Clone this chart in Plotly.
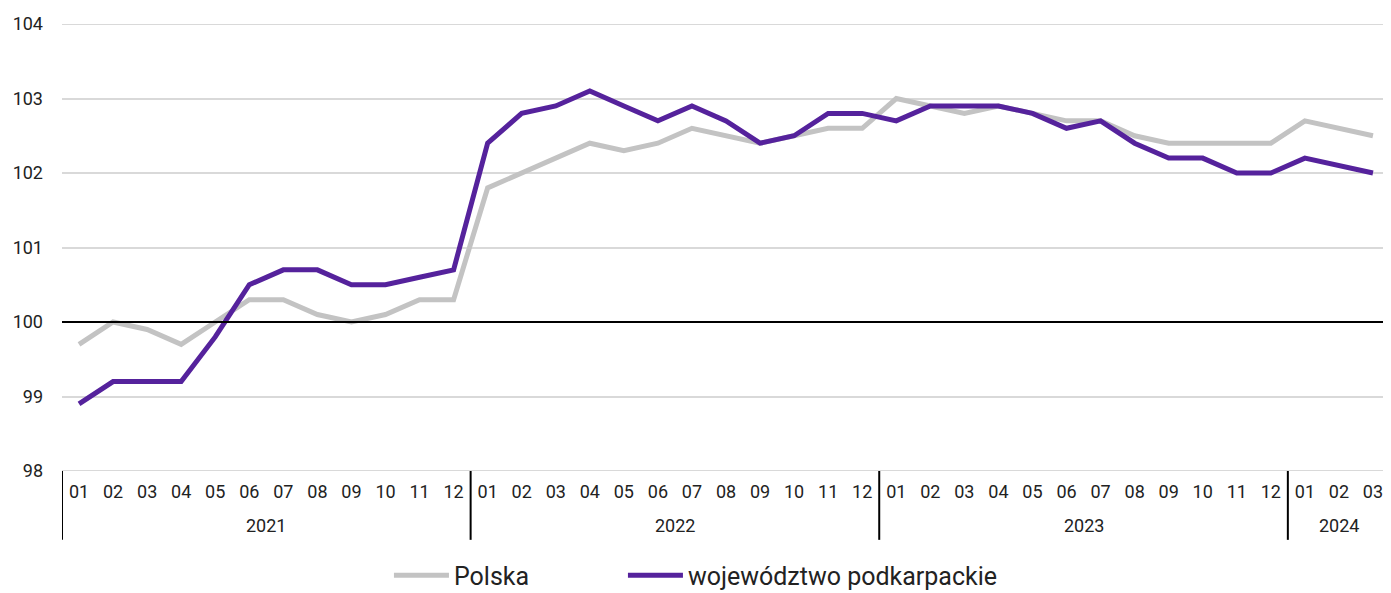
import plotly.graph_objects as go

years = ["2021", "2022", "2023", "2024"]
year_sizes = [12, 12, 12, 3]
months = [f"{m:02d}" for m in range(1, 13)] * 3 + ["01", "02", "03"]

polska = [99.7, 100.0, 99.9, 99.7, 100.0, 100.3, 100.3, 100.1, 100.0, 100.1, 100.3, 100.3,
          101.8, 102.0, 102.2, 102.4, 102.3, 102.4, 102.6, 102.5, 102.4, 102.5, 102.6, 102.6,
          103.0, 102.9, 102.8, 102.9, 102.8, 102.7, 102.7, 102.5, 102.4, 102.4, 102.4, 102.4,
          102.7, 102.6, 102.5]
podkarpackie = [98.9, 99.2, 99.2, 99.2, 99.8, 100.5, 100.7, 100.7, 100.5, 100.5, 100.6, 100.7,
                102.4, 102.8, 102.9, 103.1, 102.9, 102.7, 102.9, 102.7, 102.4, 102.5, 102.8, 102.8,
                102.7, 102.9, 102.9, 102.9, 102.8, 102.6, 102.7, 102.4, 102.2, 102.2, 102.0, 102.0,
                102.2, 102.1, 102.0]
yticks = [98, 99, 100, 101, 102, 103, 104]

FONT = "Roboto, Noto Sans, sans-serif"
idx = list(range(len(months)))

fig = go.Figure()
fig.add_trace(go.Scatter(x=idx, y=polska, mode="lines", name="Polska",
                         line=dict(color="#c3c3c3", width=5), legend="legend"))
fig.add_trace(go.Scatter(x=idx, y=podkarpackie, mode="lines",
                         name="województwo podkarpackie",
                         line=dict(color="#55229c", width=5), legend="legend2"))

# edge gridlines (min / max of y range)
for yv in (yticks[0], yticks[-1]):
    fig.add_shape(type="line", xref="paper", x0=0, x1=1, yref="y", y0=yv, y1=yv,
                  line=dict(color="#d9d9d9", width=2), layer="below")
fig.add_shape(type="line", xref="paper", x0=0, x1=1, yref="y", y0=100, y1=100,
              line=dict(color="black", width=2), layer="above")

start = 0
bounds = [-0.5]
for yr, n in zip(years, year_sizes):
    fig.add_annotation(x=start + (n - 1) / 2, xref="x", y=-0.121, yref="paper",
                       text=yr, showarrow=False, yanchor="middle",
                       font=dict(size=18, color="#222222"))
    start += n
    bounds.append(start - 0.5)
for b in bounds:
    fig.add_shape(type="line", xref="x", x0=b, x1=b, yref="paper", y0=0, y1=-0.154,
                  line=dict(color="black", width=2))

legend_common = dict(orientation="h", xanchor="left", yanchor="middle", yref="container",
                     y=0.03, font=dict(size=25, color="#222222"), itemwidth=55,
                     bgcolor="rgba(0,0,0,0)")

fig.update_layout(
    width=1383, height=585,
    margin=dict(l=54, r=1, t=16, b=122),
    paper_bgcolor="white", plot_bgcolor="white",
    font=dict(family=FONT, size=18, color="#222222"),
    showlegend=True,
    legend=dict(x=0.2462, **legend_common),
    legend2=dict(x=0.4224, **legend_common),
    xaxis=dict(range=[-0.5, 38.5], tickmode="array", tickvals=idx, ticktext=months,
               showgrid=False, ticks="", showline=False, zeroline=False,
               tickfont=dict(size=18), ticklabelstandoff=8),
    yaxis=dict(range=[98, 104], tickvals=yticks, showgrid=True, gridcolor="#d9d9d9",
               gridwidth=2, zeroline=False, showline=False, ticks="",
               tickfont=dict(size=18), ticklabelstandoff=18),
)

fig.write_html("out.html")
